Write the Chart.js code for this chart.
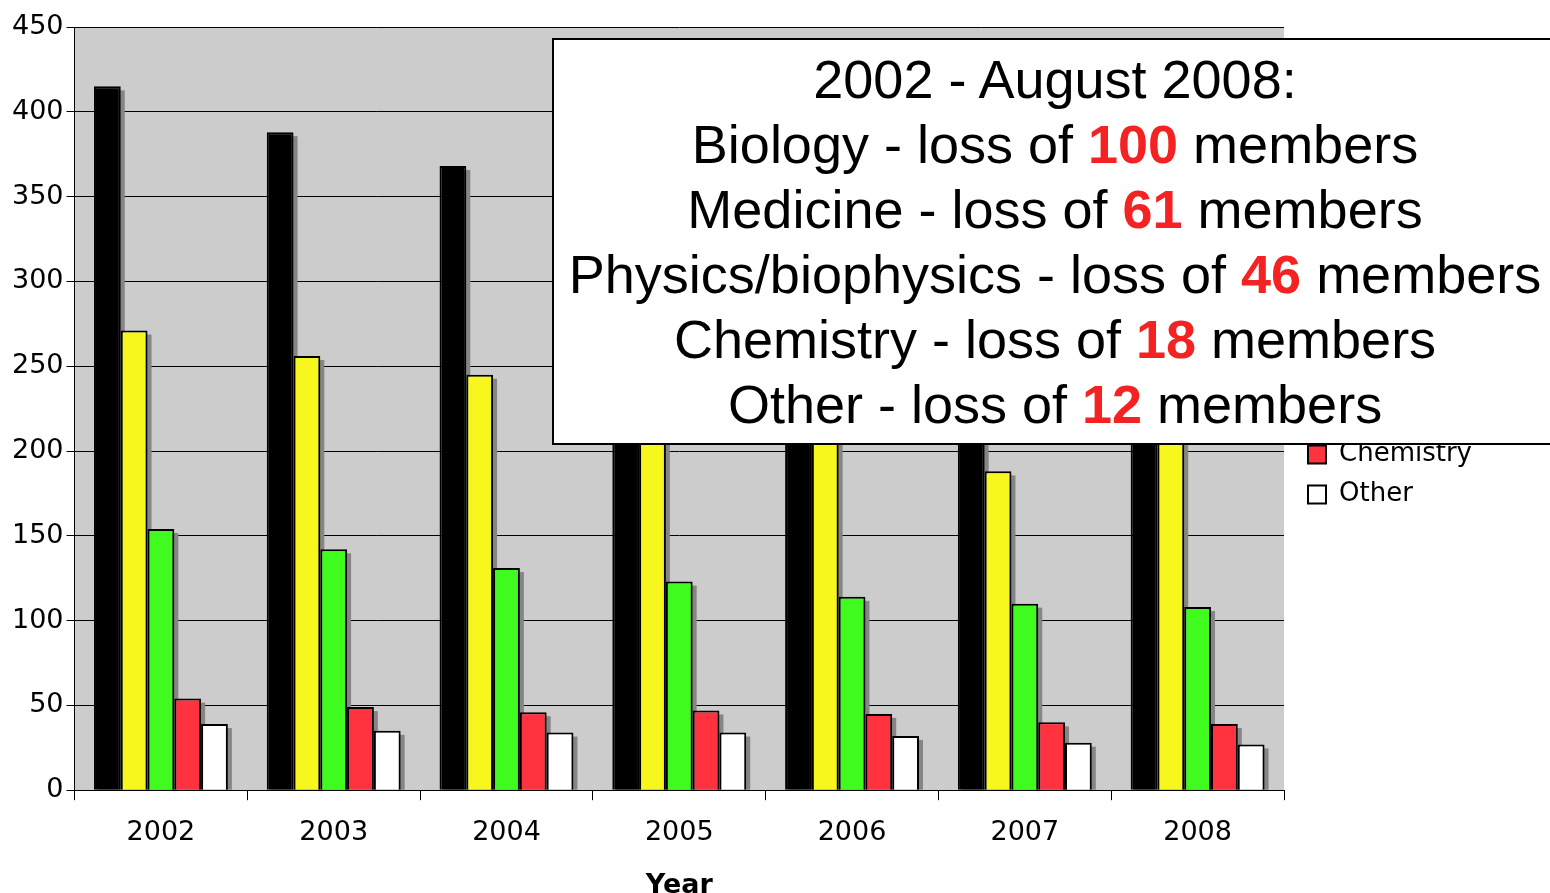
<!DOCTYPE html>
<html>
<head>
<meta charset="utf-8">
<script src="https://cdn.jsdelivr.net/npm/chart.js@4"></script>
<style>
    html, body { margin: 0; padding: 0; background: #fff; overflow: hidden; }
    #wrap { position: relative; width: 1550px; height: 893px; }
    #note {
        position: absolute; left: 552px; top: 38px; width: 1006px; height: 407px;
        box-sizing: border-box; border: 2px solid #000; background: #fff;
        font-family: 'Liberation Sans', Arial, sans-serif; font-size: 54px; line-height: 65px;
        text-align: center; padding-top: 7px; white-space: nowrap; color: #000;
    }
    #note b { color: #f42222; }
</style>
</head>
<body>
<div id="wrap">
    <canvas id="chart" width="1550" height="893"></canvas>
    <div id="note"></div>
</div>
<script>
// categories
const years = ['2002', '2003', '2004', '2005', '2006', '2007', '2008'];

// series values (members per year); bars hidden behind the note box are estimates
const biology = [415, 388, 368, 352, 340, 327, 315];
const medicine = [271, 256, 245, 230, 220, 188, 210];
const physics = [154, 142, 131, 123, 114, 110, 108];
const chemistry = [54, 49, 46, 47, 45, 40, 39];
const other = [39, 35, 34, 34, 32, 28, 27];

const seriesNames = ['Biology', 'Medicine', 'Physics/biophysics', 'Chemistry', 'Other'];
const seriesColors = ['#000000', '#f7f71e', '#3ffc1e', '#ff3340', '#ffffff'];

const yTicks = [0, 50, 100, 150, 200, 250, 300, 350, 400, 450];

// note box text
const noteTitle = '2002 - August 2008:';
const noteFields = ['Biology', 'Medicine', 'Physics/biophysics', 'Chemistry', 'Other'];
const noteLosses = [100, 61, 46, 18, 12];

Chart.defaults.font.family = "'DejaVu Sans', sans-serif";
Chart.defaults.color = '#000';

const plotBackground = {
    id: 'plotBackground',
    beforeDraw(chart) {
        const { ctx, chartArea } = chart;
        ctx.save();
        ctx.fillStyle = '#cccccc';
        ctx.fillRect(chartArea.left, chartArea.top, chartArea.right - chartArea.left, chartArea.bottom - chartArea.top);
        ctx.restore();
    }
};

// grey drop shadow behind every bar
const barShadow = {
    id: 'barShadow',
    beforeDatasetsDraw(chart) {
        const ctx = chart.ctx;
        ctx.save();
        ctx.fillStyle = '#858585';
        chart.data.datasets.forEach((ds, i) => {
            chart.getDatasetMeta(i).data.forEach(bar => {
                const left = bar.x - bar.width / 2;
                ctx.fillRect(left + 4, bar.y + 4, bar.width, bar.base - bar.y - 4);
            });
        });
        ctx.restore();
    }
};

// nudge the legend a little away from the plot area
const legendShift = {
    id: 'legendShift',
    afterLayout(chart) {
        chart.legend.left += 10;
        chart.legend.top += 6;
        chart.legend.bottom += 6;
    }
};

const values = [biology, medicine, physics, chemistry, other];

const ctx = document.getElementById('chart').getContext('2d');
new Chart(ctx, {
    type: 'bar',
    data: {
        labels: years,
        datasets: seriesNames.map((name, i) => ({
            label: name,
            data: values[i],
            backgroundColor: seriesColors[i],
            borderColor: '#000',
            borderWidth: 2,
            barPercentage: 1,
            categoryPercentage: 0.775
        }))
    },
    options: {
        responsive: false,
        animation: false,
        layout: { padding: { top: 27, left: 9, right: 0, bottom: 0 } },
        plugins: {
            legend: {
                position: 'right',
                fullSize: false,
                maxWidth: 266,
                labels: {
                    boxWidth: 18,
                    boxHeight: 18,
                    padding: 14,
                    font: { size: 26 }
                }
            },
            tooltip: { enabled: false }
        },
        scales: {
            x: {
                grid: { drawOnChartArea: false, color: '#000', tickLength: 10 },
                border: { color: '#000', width: 1 },
                ticks: { padding: 17, font: { size: 27 } },
                title: {
                    display: true,
                    text: 'Year',
                    font: { size: 27, weight: 'bold' },
                    padding: { top: 3, bottom: -9 }
                }
            },
            y: {
                min: 0,
                max: 450,
                afterBuildTicks(scale) {
                    scale.ticks = yTicks.map(v => ({ value: v }));
                },
                grid: { color: '#000', tickLength: 8 },
                border: { color: '#000', width: 1 },
                ticks: { padding: 3, font: { size: 27 } }
            }
        }
    },
    plugins: [plotBackground, barShadow, legendShift]
});

const note = document.getElementById('note');
let html = noteTitle + '<br>';
noteFields.forEach((f, i) => {
    html += f + ' - loss of <b>' + noteLosses[i] + '</b> members' + (i < noteFields.length - 1 ? '<br>' : '');
});
note.innerHTML = html;
</script>
</body>
</html>
